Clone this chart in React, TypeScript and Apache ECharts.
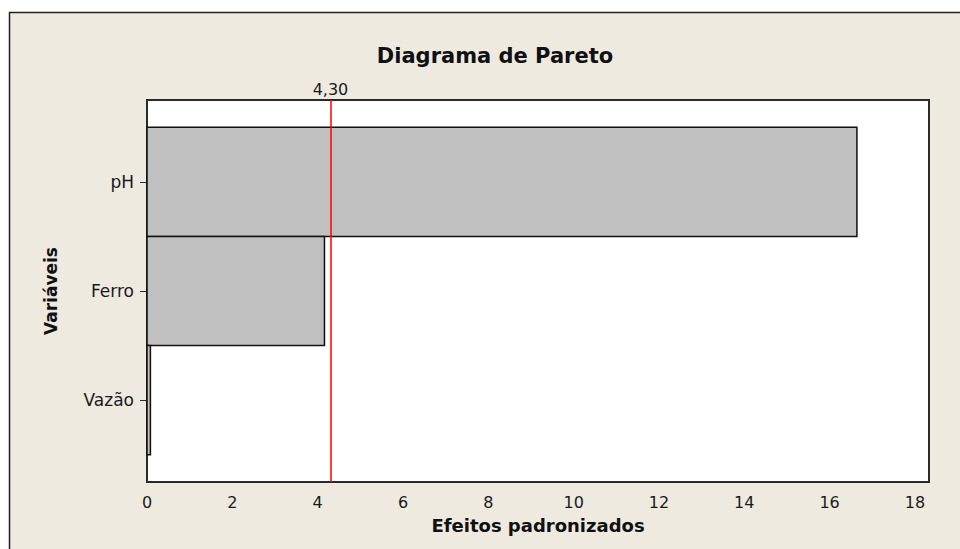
import React, { useEffect, useRef } from "react";
import * as echarts from "echarts";

const categories = ["pH", "Ferro", "Vazão"];
const effects = [16.64, 4.16, 0.08];
const threshold = 4.3;
const thresholdLabel = "4,30";
const xTicks = [0, 2, 4, 6, 8, 10, 12, 14, 16, 18];
const catPositions = [0, 1, 2];

const FONT = "DejaVu Sans";
const TXT = "#1a1a1a";

export default function App() {
  const ref = useRef<HTMLDivElement>(null);
  useEffect(() => {
    if (!ref.current) return;
    const chart = echarts.init(ref.current, undefined, { renderer: "svg" });
    const data = effects.map((v, i) => [v, i]);
    chart.setOption({
      animation: false,
      backgroundColor: "#ffffff",
      title: {
        text: "Diagrama de Pareto",
        left: 490,
        top: 40,
        textAlign: "center",
        textStyle: { fontFamily: FONT, fontSize: 21, fontWeight: "bold", color: "#111" },
      },
      graphic: [
        {
          type: "rect",
          z: -100,
          silent: true,
          shape: { x: 9.5, y: 12.5, width: 1000, height: 600 },
          style: { fill: "#EEEAE0", stroke: "#222", lineWidth: 1.5 },
        },
      ],
      grid: {
        left: 147,
        top: 100,
        right: 31,
        bottom: 67,
        show: true,
        backgroundColor: "#ffffff",
        borderColor: "#2a2a2a",
        borderWidth: 2,
        z: 1,
      },
      xAxis: {
        type: "value",
        min: 0,
        max: 18.33,
        name: "Efeitos padronizados",
        nameLocation: "middle",
        nameGap: 34,
        nameTextStyle: { fontFamily: FONT, fontSize: 18, fontWeight: "bold", color: "#111" },
        splitLine: { show: false },
        axisLine: { show: true, lineStyle: { color: "#2a2a2a", width: 2 } },
        axisTick: { show: true, length: 6, customValues: xTicks, lineStyle: { color: "#2a2a2a" } },
        axisLabel: {
          customValues: xTicks,
          fontFamily: FONT,
          fontSize: 16,
          color: TXT,
          margin: 12,
        },
      },
      yAxis: {
        type: "value",
        min: -0.75,
        max: 2.75,
        inverse: true,
        name: "Variáveis",
        nameLocation: "middle",
        nameGap: 88,
        nameTextStyle: { fontFamily: FONT, fontSize: 17, fontWeight: "bold", color: "#111" },
        splitLine: { show: false },
        axisLine: { show: true, lineStyle: { color: "#2a2a2a", width: 2 } },
        axisTick: { show: true, length: 7, customValues: catPositions, lineStyle: { color: "#2a2a2a" } },
        axisLabel: {
          customValues: catPositions,
          formatter: (v: number) => categories[Math.round(v)] ?? "",
          fontFamily: FONT,
          fontSize: 17,
          color: TXT,
          margin: 13,
        },
      },
      series: [
        {
          type: "custom",
          z: 5,
          data,
          encode: { x: 0, y: 1 },
          renderItem: (params: any, api: any) => {
            const v = api.value(0);
            const idx = api.value(1);
            const p0 = api.coord([0, idx - 0.5]);
            const p1 = api.coord([v, idx + 0.5]);
            const x = Math.min(p0[0], p1[0]);
            const y = Math.min(p0[1], p1[1]);
            return {
              type: "rect",
              shape: {
                x,
                y,
                width: Math.abs(p1[0] - p0[0]),
                height: Math.abs(p1[1] - p0[1]),
              },
              style: { fill: "#c0c0c0", stroke: "#111", lineWidth: 1.5 },
            };
          },
          markLine: {
            silent: true,
            symbol: "none",
            z: 10,
            lineStyle: { color: "#ff0000", width: 1.5, type: "solid" },
            label: {
              show: true,
              position: "end",
              formatter: thresholdLabel,
              fontFamily: FONT,
              fontSize: 16,
              color: TXT,
              distance: 3,
            },
            data: [[{ coord: [threshold, 2.75] }, { coord: [threshold, -0.75] }]],
          },
        },
      ],
    });
    return () => chart.dispose();
  }, []);
  return (
    <div
      ref={ref}
      style={{ position: "fixed", left: 0, top: 0, width: 960, height: 549 }}
    />
  );
}
